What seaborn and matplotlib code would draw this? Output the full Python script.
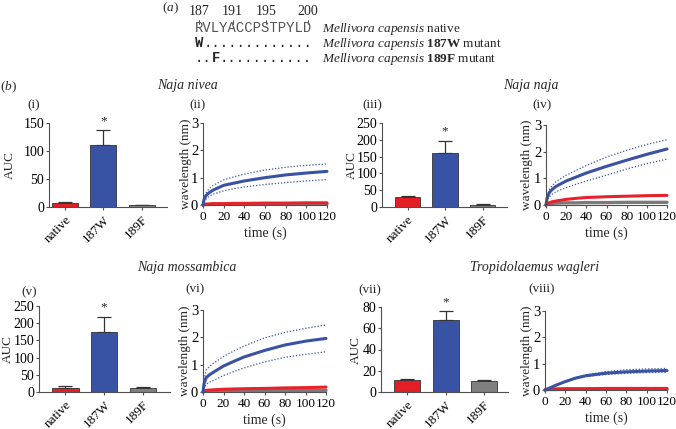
import numpy as np
import pandas as pd
import matplotlib
matplotlib.use("Agg")
import matplotlib.pyplot as plt
import seaborn as sns

# ---------------- data ----------------
groups = ["native", "187W", "189F"]
bar_colors = ["#e31e24", "#3953a4", "#808080"]

nivea_auc = [7, 110, 3]
nivea_err = [2, 27, 1]
naja_auc = [30, 162, 6]
naja_err = [3, 34, 2]
mossa_auc = [13, 173, 13]
mossa_err = [3, 46, 2]
wagleri_auc = [11, 68, 10]
wagleri_err = [1.5, 8, 1.5]

time_s = [0, 1, 3, 6, 10, 20, 30, 40, 60, 80, 100, 120]

nivea_blue = [0, 0.2, 0.35, 0.45, 0.55, 0.72, 0.8, 0.88, 1.0, 1.1, 1.17, 1.23]
nivea_hi = [0, 0.25, 0.45, 0.6, 0.72, 0.92, 1.03, 1.13, 1.28, 1.38, 1.45, 1.5]
nivea_lo = [0, 0.12, 0.22, 0.32, 0.4, 0.52, 0.6, 0.66, 0.75, 0.82, 0.88, 0.93]
nivea_red = [0, 0.02, 0.03, 0.04, 0.05, 0.05, 0.06, 0.06, 0.07, 0.07, 0.08, 0.08]
nivea_grey = [0, 0.01, 0.02, 0.02, 0.03, 0.03, 0.03, 0.03, 0.04, 0.04, 0.04, 0.04]

naja_blue = [0, 0.25, 0.45, 0.58, 0.7, 0.9, 1.05, 1.2, 1.45, 1.68, 1.9, 2.1]
naja_hi = [0, 0.3, 0.55, 0.72, 0.88, 1.12, 1.3, 1.48, 1.8, 2.05, 2.27, 2.45]
naja_lo = [0, 0.15, 0.3, 0.4, 0.5, 0.65, 0.78, 0.9, 1.12, 1.35, 1.55, 1.72]
naja_red = [0, 0.04, 0.08, 0.12, 0.15, 0.21, 0.25, 0.28, 0.31, 0.33, 0.35, 0.36]
naja_grey = [0, 0.03, 0.05, 0.06, 0.07, 0.08, 0.08, 0.09, 0.09, 0.1, 0.1, 0.1]

mossa_blue = [0, 0.3, 0.52, 0.62, 0.72, 0.95, 1.12, 1.28, 1.52, 1.72, 1.86, 1.96]
mossa_hi = [0, 0.45, 0.8, 0.92, 1.05, 1.3, 1.5, 1.68, 1.98, 2.18, 2.33, 2.45]
mossa_lo = [0, 0.15, 0.28, 0.35, 0.42, 0.6, 0.75, 0.88, 1.1, 1.27, 1.38, 1.47]
mossa_red = [0, 0.03, 0.06, 0.07, 0.08, 0.1, 0.11, 0.12, 0.13, 0.15, 0.16, 0.18]
mossa_grey = [0, 0.02, 0.03, 0.03, 0.04, 0.04, 0.05, 0.05, 0.05, 0.05, 0.06, 0.06]

wagleri_blue = [0, 0.02, 0.05, 0.1, 0.17, 0.32, 0.45, 0.54, 0.64, 0.69, 0.72, 0.74]
wagleri_hi = [0, 0.02, 0.05, 0.1, 0.17, 0.33, 0.46, 0.57, 0.7, 0.77, 0.8, 0.82]
wagleri_lo = [0, 0.02, 0.05, 0.1, 0.17, 0.31, 0.44, 0.51, 0.59, 0.63, 0.66, 0.67]
wagleri_red = [0, 0.02, 0.03, 0.04, 0.04, 0.05, 0.05, 0.05, 0.06, 0.06, 0.06, 0.06]
wagleri_grey = [0, 0.01, 0.02, 0.02, 0.02, 0.03, 0.03, 0.03, 0.03, 0.03, 0.03, 0.03]

seq_native = "RVLYACCPSTPYLD"
seq_numbers = ["187", "191", "195", "200"]
seq_positions = [0, 4, 8, 13]

# ---------------- style ----------------
sns.set_style("ticks")
plt.rcParams["font.family"] = ["Liberation Serif", "DejaVu Serif"]
plt.rcParams["mathtext.fontset"] = "custom"
plt.rcParams["mathtext.rm"] = "Liberation Serif"
plt.rcParams["mathtext.it"] = "Liberation Serif:italic"
plt.rcParams["mathtext.bf"] = "Liberation Serif:bold"
plt.rcParams["axes.edgecolor"] = "#505050"
plt.rcParams["axes.linewidth"] = 0.8
plt.rcParams["xtick.color"] = "#505050"
plt.rcParams["ytick.color"] = "#505050"
plt.rcParams["xtick.labelcolor"] = "black"
plt.rcParams["ytick.labelcolor"] = "black"
plt.rcParams["xtick.major.size"] = 2.5
plt.rcParams["ytick.major.size"] = 2.5
plt.rcParams["xtick.major.pad"] = 2
plt.rcParams["ytick.major.pad"] = 1

W, H = 676, 429
fig = plt.figure(figsize=(W / 100, H / 100), dpi=100)
FS = 9.5


def px_axes(l, t, r, b):
    return fig.add_axes([l / W, 1 - b / H, (r - l) / W, (b - t) / H])


def ftext(x, y, s, **kw):
    fig.text(x / W, 1 - y / H, s, **kw)


def place_ylabel(ax, box, xpx):
    l, t, r, b = box
    ax.yaxis.set_label_coords((xpx - l) / (r - l), 0.5)


def bar_panel(box, vals, errs, ymax, step, xlim, label_x):
    ax = px_axes(*box)
    df = pd.DataFrame({"group": groups, "AUC": vals})
    sns.barplot(data=df, x="group", y="AUC", hue="group", palette=bar_colors,
                legend=False, width=0.68, saturation=1, edgecolor="#333333",
                linewidth=0.6, ax=ax, zorder=2)
    ax.errorbar(range(3), vals, yerr=[[0, 0, 0], errs], fmt="none",
                ecolor="#333333", elinewidth=0.9, capsize=5, capthick=0.9,
                zorder=1)
    ax.text(1, vals[1] + errs[1] + ymax * 0.04, "*", ha="center", va="bottom",
            fontsize=FS)
    ax.set_ylim(0, ymax)
    ax.set_yticks(np.arange(0, ymax + 1, step))
    ax.set_xlim(*xlim)
    ax.set_xlabel("")
    ax.set_ylabel("AUC", fontsize=FS, va="center")
    place_ylabel(ax, box, label_x)
    ax.set_xticks(range(3))
    ax.set_xticklabels(groups, rotation=45, ha="right", rotation_mode="anchor",
                       fontsize=FS)
    ax.tick_params(axis="y", labelsize=10)
    sns.despine(ax=ax)
    return ax


def line_panel(box, blue, hi, lo, red, grey, label_x):
    ax = px_axes(*box)
    sns.lineplot(x=time_s, y=grey, color="#7a7a7a", lw=2.4, ax=ax)
    sns.lineplot(x=time_s, y=red, color="#e8212b", lw=2.2, ax=ax)
    sns.lineplot(x=time_s, y=hi, color="#3a52a3", lw=0.9, ls=(0, (1, 1.5)), ax=ax)
    sns.lineplot(x=time_s, y=lo, color="#3a52a3", lw=0.9, ls=(0, (1, 1.5)), ax=ax)
    sns.lineplot(x=time_s, y=blue, color="#3a52a3", lw=2.2, ax=ax)
    ax.set_xlim(0, 120)
    ax.set_ylim(0, 3)
    ax.set_xticks(range(0, 121, 20))
    ax.set_yticks([0, 1, 2, 3])
    ax.set_xlabel("time (s)", fontsize=10, labelpad=2)
    ax.set_ylabel("wavelength (nm)", fontsize=FS, va="center")
    place_ylabel(ax, box, label_x)
    ax.tick_params(axis="x", labelsize=9.5)
    ax.tick_params(axis="y", labelsize=10.5)
    for line in ax.lines:
        line.set_clip_on(False)
    sns.despine(ax=ax)
    return ax


# top row
bar_panel((49, 123, 167, 207), nivea_auc, nivea_err, 150, 50, (-0.42, 2.66), 10)
line_panel((203, 123, 327, 205), nivea_blue, nivea_hi, nivea_lo, nivea_red,
           nivea_grey, 186)
bar_panel((382, 123, 507, 207), naja_auc, naja_err, 250, 50, (-0.68, 2.65), 352)
line_panel((546, 125, 667, 205), naja_blue, naja_hi, naja_lo, naja_red,
           naja_grey, 527)

# bottom row
bar_panel((39, 306, 170, 392), mossa_auc, mossa_err, 250, 50, (-0.68, 2.7), 8)
line_panel((203, 310, 326, 392), mossa_blue, mossa_hi, mossa_lo, mossa_red,
           mossa_grey, 185)
bar_panel((381, 307, 508, 392), wagleri_auc, wagleri_err, 80, 20, (-0.68, 2.62), 356)
line_panel((545, 311, 667, 390), wagleri_blue, wagleri_hi, wagleri_lo, wagleri_red,
           wagleri_grey, 527)

# panel numerals
for x, y, s in [(34, 105, "(i)"), (198, 105, "(ii)"), (372, 105, "(iii)"),
                (542, 105, "(iv)"), (29, 292, "(v)"), (195, 289, "(vi)"),
                (370, 290, "(vii)"), (542, 289, "(viii)")]:
    ftext(x, y, s, ha="center", va="center", fontsize=FS)

# species titles
for x, y, s in [(187, 85, "Naja nivea"), (531, 85, "Naja naja"),
                (187, 267, "Naja mossambica"), (535, 267, "Tropidolaemus wagleri")]:
    ftext(x, y, s, ha="center", va="center", fontsize=10, style="italic")

ftext(8, 87, r"$(\mathit{b})$", ha="center", va="center", fontsize=FS)
ftext(170, 8, r"$(\mathit{a})$", ha="center", va="center", fontsize=FS)

# sequence block
SFS = 10
cw = 0.6 * SFS * 100 / 72
x0 = 195
mono = "Liberation Mono"
for num, p in zip(seq_numbers, seq_positions):
    cx = x0 + (p + 0.5) * cw
    ftext(cx, 15, num, ha="center", va="baseline", fontsize=10)
    fig.add_artist(plt.Line2D([cx / W, cx / W], [1 - 20 / H, 1 - 24 / H],
                              color="#555555", lw=0.7))
ftext(x0, 32, seq_native, ha="left", va="baseline", fontsize=SFS, family=mono,
      color="#555555")
ftext(x0, 47, "W", ha="left", va="baseline", fontsize=SFS, family=mono, weight="bold")
ftext(x0 + cw, 47, "." * (len(seq_native) - 1), ha="left", va="baseline",
      fontsize=SFS, family=mono)
ftext(x0, 62, "..", ha="left", va="baseline", fontsize=SFS, family=mono)
ftext(x0 + 2 * cw, 62, "F", ha="left", va="baseline", fontsize=SFS, family=mono,
      weight="bold")
ftext(x0 + 3 * cw, 62, "." * (len(seq_native) - 3), ha="left", va="baseline",
      fontsize=SFS, family=mono)

ftext(322, 32, r"$\mathit{Mellivora\ capensis}$ native", ha="left", va="baseline",
      fontsize=FS)
ftext(322, 47, r"$\mathit{Mellivora\ capensis}$ $\mathbf{187W}$ mutant",
      ha="left", va="baseline", fontsize=FS)
ftext(322, 62, r"$\mathit{Mellivora\ capensis}$ $\mathbf{189F}$ mutant",
      ha="left", va="baseline", fontsize=FS)

fig.savefig("out.png", dpi=100)
